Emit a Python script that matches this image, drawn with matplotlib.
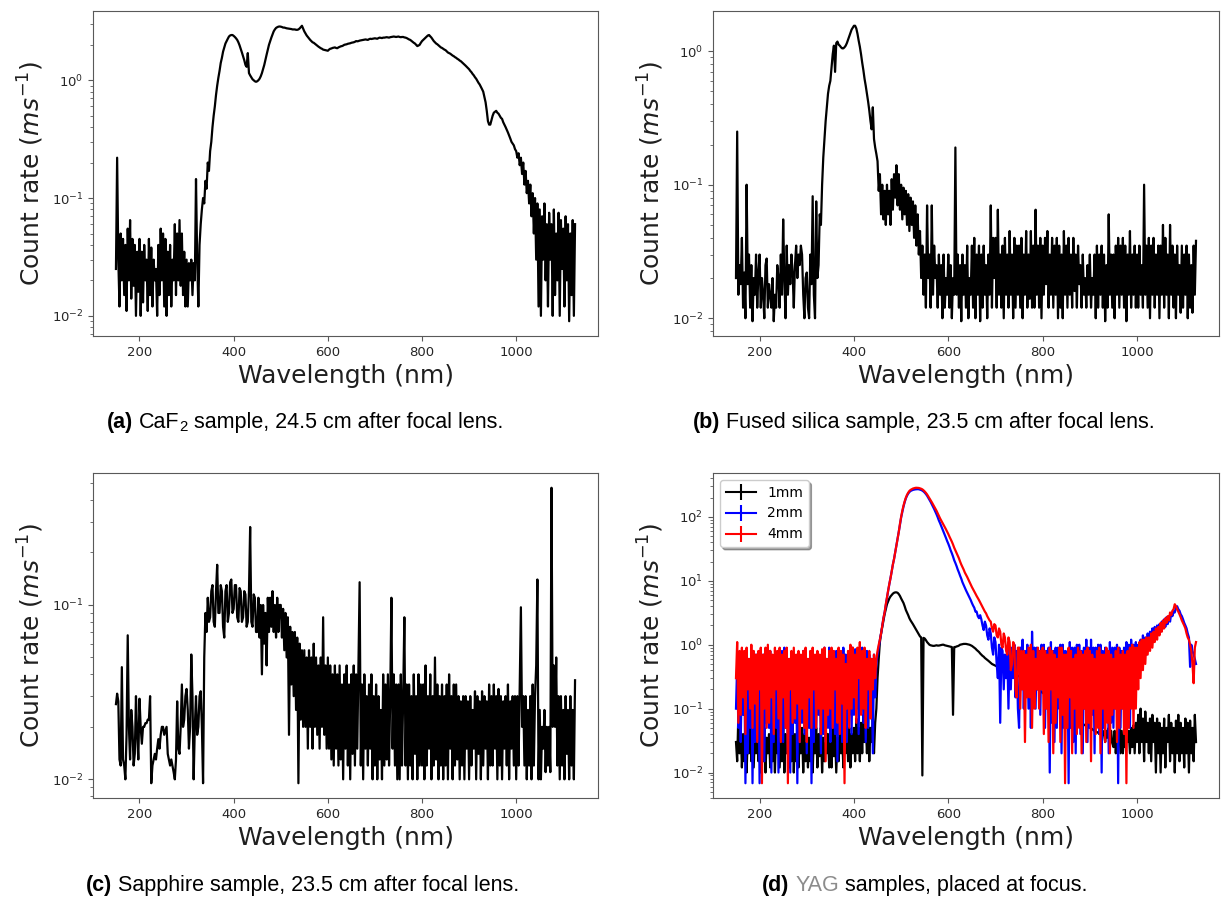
import matplotlib
matplotlib.use('Agg')
import matplotlib.pyplot as plt
from matplotlib.lines import Line2D
from matplotlib.transforms import IdentityTransform
import numpy as np

wavelength = np.arange(150, 1127.5, 2.5)

caf2 = [
    0.025, 0.22, 0.03, 0.012, 0.05, 0.02, 0.045, 0.015, 0.04, 0.011, 0.055, 0.02, 0.065, 0.014, 0.045, 0.018, 0.04, 0.01, 0.035, 0.016,
    0.045, 0.01, 0.035, 0.013, 0.04, 0.02, 0.03, 0.011, 0.045, 0.015, 0.038, 0.012, 0.03, 0.02, 0.025, 0.01, 0.04, 0.015, 0.055, 0.02,
    0.05, 0.012, 0.045, 0.01, 0.035, 0.015, 0.04, 0.012, 0.03, 0.02, 0.06, 0.015, 0.05, 0.02, 0.065, 0.018, 0.05, 0.015, 0.035, 0.012,
    0.03, 0.012, 0.028, 0.02, 0.03, 0.015, 0.028, 0.02, 0.145, 0.03, 0.012, 0.04, 0.06, 0.08, 0.1, 0.09, 0.14, 0.12, 0.2, 0.17,
    0.25, 0.3, 0.4, 0.5, 0.6, 0.75, 0.9, 1.05, 1.2, 1.4, 1.55, 1.75, 1.9, 2.05, 2.15, 2.25, 2.35, 2.4, 2.42, 2.42,
    2.38, 2.33, 2.27, 2.2, 2.1, 1.98, 1.85, 1.72, 1.6, 1.48, 1.35, 1.3, 1.7, 1.15, 1.1, 1.06, 1.02, 1.0, 0.98, 0.97,
    0.98, 1.0, 1.03, 1.08, 1.15, 1.25, 1.35, 1.5, 1.65, 1.82, 2.0, 2.15, 2.3, 2.45, 2.6, 2.7, 2.78, 2.82, 2.85, 2.86,
    2.85, 2.83, 2.8, 2.8, 2.78, 2.76, 2.75, 2.74, 2.73, 2.72, 2.7, 2.7, 2.7, 2.68, 2.68, 2.7, 2.75, 2.82, 2.9, 2.75,
    2.6, 2.5, 2.4, 2.33, 2.27, 2.2, 2.15, 2.1, 2.08, 2.04, 2.0, 1.96, 1.93, 1.9, 1.87, 1.85, 1.82, 1.81, 1.8, 1.79,
    1.78, 1.82, 1.85, 1.86, 1.88, 1.89, 1.9, 1.88, 1.87, 1.9, 1.92, 1.94, 1.95, 1.97, 2.0, 2.01, 2.02, 2.04, 2.05, 2.06,
    2.08, 2.09, 2.1, 2.12, 2.15, 2.14, 2.15, 2.17, 2.18, 2.19, 2.2, 2.21, 2.22, 2.21, 2.2, 2.23, 2.25, 2.24, 2.25, 2.26,
    2.27, 2.26, 2.25, 2.28, 2.3, 2.29, 2.28, 2.3, 2.3, 2.31, 2.32, 2.31, 2.3, 2.32, 2.33, 2.34, 2.35, 2.34, 2.33, 2.34,
    2.35, 2.33, 2.32, 2.33, 2.33, 2.31, 2.3, 2.28, 2.25, 2.22, 2.2, 2.16, 2.12, 2.08, 2.05, 2.0, 1.95, 1.97, 2.0, 2.08,
    2.15, 2.2, 2.25, 2.3, 2.35, 2.4, 2.42, 2.36, 2.3, 2.22, 2.15, 2.1, 2.05, 2.02, 1.98, 1.94, 1.9, 1.88, 1.85, 1.82,
    1.8, 1.76, 1.72, 1.7, 1.68, 1.65, 1.62, 1.6, 1.57, 1.55, 1.52, 1.5, 1.47, 1.45, 1.42, 1.39, 1.36, 1.33, 1.3, 1.27,
    1.24, 1.2, 1.17, 1.13, 1.1, 1.06, 1.03, 0.99, 0.95, 0.92, 0.88, 0.84, 0.8, 0.72, 0.65, 0.55, 0.45, 0.42, 0.42, 0.46,
    0.5, 0.53, 0.54, 0.55, 0.53, 0.52, 0.5, 0.48, 0.47, 0.44, 0.42, 0.4, 0.38, 0.36, 0.34, 0.32, 0.3, 0.29, 0.28, 0.26,
    0.25, 0.22, 0.24, 0.19, 0.22, 0.16, 0.2, 0.13, 0.17, 0.11, 0.14, 0.09, 0.13, 0.07, 0.11, 0.05, 0.1, 0.03, 0.09, 0.012,
    0.08, 0.01, 0.07, 0.03, 0.09, 0.02, 0.06, 0.012, 0.075, 0.03, 0.06, 0.01, 0.08, 0.015, 0.05, 0.02, 0.075, 0.01, 0.065, 0.025,
    0.055, 0.012, 0.07, 0.02, 0.06, 0.009, 0.05, 0.015, 0.065, 0.01, 0.06,
]

silica = [
    0.02, 0.25, 0.015, 0.025, 0.018, 0.04, 0.012, 0.022, 0.01, 0.1, 0.018, 0.03, 0.012, 0.025, 0.0095, 0.02, 0.015, 0.03, 0.012, 0.022,
    0.03, 0.012, 0.02, 0.015, 0.01, 0.025, 0.028, 0.012, 0.018, 0.015, 0.012, 0.02, 0.0095, 0.015, 0.012, 0.025, 0.02, 0.012, 0.03, 0.015,
    0.055, 0.02, 0.01, 0.035, 0.015, 0.025, 0.018, 0.03, 0.022, 0.012, 0.025, 0.035, 0.02, 0.03, 0.025, 0.035, 0.03, 0.015, 0.01, 0.02,
    0.022, 0.012, 0.01, 0.03, 0.018, 0.082, 0.015, 0.01, 0.075, 0.02, 0.025, 0.06, 0.05, 0.1, 0.16, 0.22, 0.3, 0.38, 0.48, 0.55,
    0.6, 0.75, 0.95, 1.1, 0.7, 1.15, 1.18, 1.12, 1.1, 1.07, 1.05, 1.05, 1.07, 1.1, 1.15, 1.22, 1.3, 1.38, 1.45, 1.5,
    1.55, 1.55, 1.48, 1.35, 1.2, 1.08, 0.95, 0.82, 0.72, 0.62, 0.55, 0.48, 0.42, 0.36, 0.3, 0.26, 0.38, 0.22, 0.19, 0.17,
    0.15, 0.09, 0.12, 0.06, 0.1, 0.055, 0.09, 0.05, 0.1, 0.06, 0.09, 0.05, 0.11, 0.065, 0.12, 0.08, 0.14, 0.07, 0.12, 0.065,
    0.1, 0.055, 0.095, 0.06, 0.09, 0.05, 0.085, 0.045, 0.08, 0.05, 0.075, 0.04, 0.07, 0.035, 0.06, 0.03, 0.045, 0.02, 0.035, 0.015,
    0.03, 0.012, 0.07, 0.02, 0.03, 0.012, 0.07, 0.015, 0.035, 0.02, 0.025, 0.012, 0.03, 0.015, 0.025, 0.01, 0.03, 0.012, 0.02, 0.015,
    0.03, 0.012, 0.025, 0.01, 0.02, 0.015, 0.19, 0.015, 0.03, 0.012, 0.025, 0.0095, 0.03, 0.015, 0.025, 0.012, 0.035, 0.01, 0.02, 0.015,
    0.035, 0.012, 0.04, 0.01, 0.03, 0.015, 0.035, 0.0095, 0.03, 0.012, 0.035, 0.015, 0.025, 0.01, 0.03, 0.015, 0.07, 0.012, 0.04, 0.02,
    0.04, 0.012, 0.065, 0.015, 0.03, 0.012, 0.035, 0.01, 0.04, 0.015, 0.03, 0.012, 0.045, 0.015, 0.03, 0.01, 0.04, 0.012, 0.035, 0.015,
    0.035, 0.012, 0.04, 0.01, 0.03, 0.015, 0.045, 0.012, 0.03, 0.014, 0.045, 0.012, 0.035, 0.012, 0.065, 0.015, 0.035, 0.012, 0.04, 0.01,
    0.035, 0.015, 0.04, 0.018, 0.045, 0.012, 0.03, 0.015, 0.04, 0.012, 0.035, 0.015, 0.04, 0.01, 0.035, 0.012, 0.03, 0.01, 0.045, 0.015,
    0.035, 0.012, 0.04, 0.015, 0.03, 0.012, 0.04, 0.016, 0.03, 0.012, 0.035, 0.018, 0.025, 0.012, 0.03, 0.015, 0.02, 0.012, 0.025, 0.015,
    0.03, 0.012, 0.02, 0.015, 0.03, 0.01, 0.035, 0.012, 0.03, 0.015, 0.035, 0.012, 0.03, 0.0095, 0.025, 0.012, 0.06, 0.015, 0.03, 0.012,
    0.03, 0.01, 0.035, 0.015, 0.04, 0.012, 0.035, 0.015, 0.04, 0.012, 0.035, 0.0095, 0.03, 0.015, 0.045, 0.012, 0.03, 0.015, 0.035, 0.012,
    0.03, 0.012, 0.035, 0.015, 0.025, 0.012, 0.1, 0.015, 0.035, 0.012, 0.04, 0.01, 0.035, 0.015, 0.04, 0.012, 0.03, 0.015, 0.035, 0.01,
    0.035, 0.015, 0.05, 0.012, 0.04, 0.015, 0.03, 0.01, 0.05, 0.015, 0.035, 0.012, 0.03, 0.01, 0.035, 0.015, 0.025, 0.011, 0.035, 0.012,
    0.03, 0.015, 0.035, 0.01, 0.03, 0.012, 0.025, 0.011, 0.035, 0.015, 0.038,
]

sapphire = [
    0.027, 0.031, 0.028, 0.013, 0.012, 0.044, 0.013, 0.012, 0.01, 0.018, 0.067, 0.02, 0.013, 0.025, 0.02, 0.012, 0.014, 0.03, 0.018, 0.013,
    0.029, 0.02, 0.016, 0.02, 0.02, 0.021, 0.021, 0.022, 0.022, 0.03, 0.0095, 0.012, 0.013, 0.014, 0.013, 0.015, 0.017, 0.015, 0.018, 0.02,
    0.02, 0.018, 0.019, 0.02, 0.014, 0.013, 0.012, 0.013, 0.012, 0.011, 0.01, 0.013, 0.028, 0.015, 0.014, 0.02, 0.035, 0.02, 0.022, 0.03,
    0.033, 0.025, 0.015, 0.02, 0.052, 0.03, 0.01, 0.02, 0.03, 0.018, 0.02, 0.03, 0.032, 0.02, 0.0095, 0.05, 0.09, 0.07, 0.11, 0.08,
    0.085, 0.12, 0.13, 0.08, 0.075, 0.12, 0.17, 0.09, 0.09, 0.13, 0.12, 0.075, 0.065, 0.12, 0.13, 0.08, 0.09, 0.135, 0.14, 0.09,
    0.095, 0.13, 0.13, 0.085, 0.08, 0.125, 0.12, 0.08, 0.085, 0.12, 0.115, 0.075, 0.08, 0.12, 0.28, 0.08, 0.075, 0.115, 0.11, 0.07,
    0.07, 0.11, 0.065, 0.1, 0.04, 0.1, 0.06, 0.09, 0.045, 0.11, 0.07, 0.11, 0.075, 0.12, 0.07, 0.1, 0.065, 0.11, 0.07, 0.1,
    0.1, 0.065, 0.095, 0.055, 0.09, 0.05, 0.085, 0.018, 0.075, 0.035, 0.07, 0.03, 0.07, 0.025, 0.065, 0.0095, 0.06, 0.022, 0.055, 0.02,
    0.055, 0.02, 0.05, 0.015, 0.055, 0.02, 0.05, 0.015, 0.06, 0.02, 0.05, 0.018, 0.045, 0.015, 0.05, 0.02, 0.085, 0.018, 0.045, 0.015,
    0.05, 0.015, 0.045, 0.013, 0.04, 0.012, 0.045, 0.015, 0.04, 0.012, 0.045, 0.013, 0.035, 0.01, 0.04, 0.015, 0.045, 0.012, 0.035, 0.01,
    0.04, 0.014, 0.045, 0.012, 0.04, 0.015, 0.045, 0.135, 0.012, 0.035, 0.01, 0.04, 0.015, 0.03, 0.012, 0.035, 0.015, 0.04, 0.01, 0.03,
    0.012, 0.035, 0.01, 0.03, 0.013, 0.025, 0.01, 0.04, 0.012, 0.035, 0.013, 0.04, 0.012, 0.03, 0.11, 0.015, 0.04, 0.012, 0.035, 0.01,
    0.035, 0.01, 0.04, 0.012, 0.03, 0.085, 0.012, 0.035, 0.01, 0.035, 0.012, 0.03, 0.01, 0.04, 0.014, 0.03, 0.01, 0.04, 0.012, 0.035,
    0.012, 0.035, 0.01, 0.045, 0.012, 0.03, 0.015, 0.04, 0.01, 0.03, 0.012, 0.05, 0.013, 0.035, 0.01, 0.03, 0.012, 0.035, 0.01, 0.03,
    0.012, 0.035, 0.01, 0.04, 0.015, 0.03, 0.01, 0.035, 0.012, 0.035, 0.013, 0.03, 0.01, 0.028, 0.012, 0.03, 0.01, 0.03, 0.015, 0.028,
    0.01, 0.03, 0.012, 0.025, 0.015, 0.032, 0.01, 0.03, 0.014, 0.028, 0.01, 0.032, 0.012, 0.03, 0.015, 0.028, 0.01, 0.035, 0.012, 0.03,
    0.012, 0.035, 0.015, 0.03, 0.01, 0.033, 0.012, 0.03, 0.01, 0.028, 0.015, 0.03, 0.012, 0.035, 0.01, 0.028, 0.015, 0.03, 0.012, 0.03,
    0.01, 0.03, 0.012, 0.035, 0.097, 0.02, 0.03, 0.012, 0.03, 0.01, 0.025, 0.012, 0.03, 0.01, 0.035, 0.012, 0.03, 0.045, 0.14, 0.01,
    0.025, 0.01, 0.02, 0.015, 0.025, 0.011, 0.02, 0.012, 0.02, 0.011, 0.47, 0.02, 0.045, 0.02, 0.05, 0.012, 0.03, 0.01, 0.03, 0.012,
    0.025, 0.01, 0.03, 0.014, 0.025, 0.01, 0.03, 0.012, 0.025, 0.01, 0.037,
]

yag_1mm = [
    0.03, 0.015, 0.08, 0.02, 0.05, 0.012, 0.04, 0.015, 0.05, 0.01, 0.04, 0.02, 0.06, 0.015, 0.045, 0.012, 0.04, 0.02, 0.05, 0.015,
    0.03, 0.01, 0.045, 0.015, 0.05, 0.01, 0.035, 0.02, 0.04, 0.012, 0.06, 0.015, 0.04, 0.01, 0.05, 0.02, 0.035, 0.012, 0.04, 0.015,
    0.05, 0.01, 0.04, 0.02, 0.035, 0.012, 0.045, 0.015, 0.06, 0.01, 0.04, 0.015, 0.05, 0.012, 0.035, 0.02, 0.05, 0.01, 0.04, 0.015,
    0.05, 0.012, 0.035, 0.015, 0.055, 0.01, 0.04, 0.02, 0.05, 0.012, 0.04, 0.018, 0.05, 0.01, 0.035, 0.015, 0.06, 0.02, 0.04, 0.012,
    0.04, 0.012, 0.05, 0.018, 0.04, 0.01, 0.035, 0.015, 0.06, 0.02, 0.04, 0.012, 0.05, 0.02, 0.07, 0.015, 0.05, 0.012, 0.04, 0.02,
    0.05, 0.015, 0.07, 0.02, 0.05, 0.015, 0.06, 0.02, 0.08, 0.03, 0.06, 0.02, 0.07, 0.015, 0.05, 0.03, 0.08, 0.02, 0.06, 0.1,
    0.3, 0.6, 1.1, 1.5, 1.9, 2.4, 3.0, 3.6, 4.3, 4.8, 5.3, 5.7, 6.0, 6.3, 6.5, 6.6, 6.6, 6.5, 6.2, 5.8,
    5.3, 4.9, 4.5, 4.0, 3.5, 3.2, 2.9, 2.6, 2.4, 2.25, 2.1, 1.95, 1.8, 1.68, 1.55, 1.45, 1.35, 1.3, 0.009, 1.28,
    1.25, 1.18, 1.1, 1.05, 1.0, 0.98, 0.97, 0.96, 0.96, 0.97, 0.98, 0.97, 0.97, 0.98, 0.99, 1.0, 1.0, 0.98, 0.97, 0.96,
    0.95, 0.94, 0.93, 0.92, 0.08, 0.92, 0.92, 0.94, 0.95, 0.97, 1.0, 1.01, 1.02, 1.03, 1.03, 1.03, 1.02, 1.01, 1.0, 0.98,
    0.96, 0.93, 0.9, 0.87, 0.83, 0.8, 0.77, 0.73, 0.7, 0.67, 0.65, 0.62, 0.6, 0.58, 0.56, 0.54, 0.52, 0.5, 0.49, 0.48,
    0.47, 0.46, 0.45, 0.44, 0.43, 0.42, 0.42, 0.41, 0.4, 0.39, 0.39, 0.38, 0.37, 0.36, 0.36, 0.35, 0.35, 0.34, 0.33, 0.33,
    0.32, 0.31, 0.3, 0.3, 0.29, 0.28, 0.27, 0.26, 0.26, 0.25, 0.24, 0.23, 0.23, 0.22, 0.22, 0.21, 0.2, 0.2, 0.19, 0.18,
    0.18, 0.17, 0.17, 0.16, 0.16, 0.15, 0.15, 0.14, 0.14, 0.13, 0.13, 0.12, 0.12, 0.11, 0.11, 0.1, 0.1, 0.098, 0.095, 0.092,
    0.09, 0.088, 0.085, 0.082, 0.08, 0.078, 0.075, 0.072, 0.07, 0.068, 0.065, 0.062, 0.06, 0.059, 0.058, 0.056, 0.055, 0.053, 0.052, 0.051,
    0.05, 0.049, 0.048, 0.046, 0.045, 0.044, 0.043, 0.042, 0.04, 0.05, 0.035, 0.045, 0.04, 0.03, 0.045, 0.035, 0.05, 0.025, 0.045, 0.03,
    0.025, 0.045, 0.02, 0.04, 0.03, 0.05, 0.02, 0.045, 0.02, 0.04, 0.025, 0.05, 0.03, 0.045, 0.02, 0.05, 0.025, 0.055, 0.02, 0.06,
    0.03, 0.08, 0.02, 0.1, 0.03, 0.07, 0.015, 0.09, 0.03, 0.06, 0.02, 0.07, 0.015, 0.08, 0.03, 0.06, 0.01, 0.07, 0.02, 0.06,
    0.01, 0.05, 0.02, 0.07, 0.012, 0.05, 0.03, 0.08, 0.015, 0.06, 0.02, 0.05, 0.01, 0.065, 0.02, 0.08, 0.015, 0.06, 0.02, 0.05,
    0.012, 0.07, 0.02, 0.06, 0.01, 0.065, 0.02, 0.05, 0.015, 0.08, 0.03,
]

yag_2mm = [
    0.1, 0.5, 0.05, 0.7, 0.03, 0.4, 0.08, 0.6, 0.0068, 0.5, 0.02, 0.6, 0.05, 0.5, 0.0068, 0.4, 0.03, 0.7, 0.04, 0.5,
    0.0068, 0.4, 0.04, 0.7, 0.015, 0.5, 0.06, 0.5, 0.05, 0.8, 0.01, 0.6, 0.03, 0.7, 0.05, 0.5, 0.01, 0.6, 0.04, 0.8,
    0.03, 0.9, 0.05, 0.5, 0.02, 0.6, 0.01, 0.7, 0.04, 0.6, 0.06, 0.5, 0.0068, 0.6, 0.03, 0.5, 0.06, 0.8, 0.04, 0.7,
    0.02, 0.6, 0.05, 0.7, 0.0068, 0.5, 0.03, 0.6, 0.05, 0.7, 0.08, 0.6, 0.02, 0.8, 0.04, 0.9, 0.03, 0.6, 0.05, 0.9,
    0.03, 0.6, 0.05, 0.7, 0.04, 0.8, 0.015, 0.6, 0.05, 0.7, 0.03, 0.9, 0.05, 0.7, 0.03, 0.6, 0.08, 0.85, 0.04, 0.9,
    0.08, 0.85, 0.1, 0.6, 0.04, 0.8, 0.1, 0.9, 0.06, 0.7, 0.03, 0.8, 0.05, 0.7, 0.1, 0.6, 0.02, 0.7, 0.15, 0.5,
    0.7, 0.9, 1.2, 1.5, 2.0, 2.6, 3.2, 4.2, 5.4, 7.0, 8.8, 11, 14, 18, 22, 28, 35, 45, 57, 75,
    98, 120, 145, 170, 195, 215, 232, 245, 255, 260, 265, 268, 270, 271, 272, 271, 268, 264, 258, 250,
    240, 228, 215, 200, 185, 172, 158, 145, 133, 121, 110, 99, 88, 80, 72, 65, 58, 52, 47, 42,
    38, 34, 30, 27, 24, 21, 19, 17, 15, 13.5, 12, 10.8, 9.5, 8.6, 7.8, 7.1, 6.5, 5.9, 5.4, 5.0,
    4.5, 4.1, 3.8, 3.3, 3.3, 2.8, 2.6, 2.9, 2.5, 2.0, 1.7, 2.3, 2.0, 1.4, 1.2, 1.8, 1.5, 0.9, 0.7, 1.3,
    1.1, 0.5, 0.3, 1.0, 0.06, 0.9, 0.8, 0.2, 0.7, 0.3, 0.7, 0.1, 0.9, 0.2, 0.9, 0.3, 1.0, 0.15, 0.8, 0.1,
    0.05, 0.9, 0.2, 1.2, 0.1, 0.8, 0.3, 1.0, 0.1, 0.8, 0.05, 1.6, 0.3, 0.9, 0.1, 0.9, 0.2, 0.8, 0.08, 1.0,
    0.2, 1.0, 0.05, 0.8, 0.1, 0.9, 0.01, 1.1, 0.06, 0.8, 0.03, 0.9, 0.05, 0.9, 0.1, 1.0, 0.02, 1.0, 0.05, 0.8,
    0.1, 0.8, 0.0068, 1.1, 0.05, 0.9, 0.03, 0.9, 0.02, 1.0, 0.1, 1.0, 0.04, 0.8, 0.02, 0.9, 0.1, 1.2, 0.03, 0.9,
    0.05, 1.2, 0.08, 0.9, 0.02, 0.9, 0.1, 1.0, 0.04, 1.0, 0.01, 0.8, 0.05, 0.9, 0.1, 0.8, 0.02, 1.1, 0.06, 0.9,
    0.05, 0.9, 0.1, 1.0, 0.0068, 0.9, 0.05, 0.8, 0.1, 0.9, 0.04, 1.1, 0.1, 1.0, 0.05, 1.2, 0.2, 1.0, 0.3, 1.1,
    0.5, 1.0, 0.4, 1.2, 0.5, 1.4, 0.7, 1.3, 0.7, 1.5, 0.9, 1.6, 1.0, 1.8, 1.2, 1.9, 1.3, 2.0, 1.5, 2.1,
    1.6, 2.3, 1.8, 2.5, 1.9, 2.7, 2.1, 2.8, 2.3, 3.1, 2.8, 3.3, 3.2, 3.8, 4.0, 3.6, 3.4, 3.0, 2.8, 2.5,
    2.2, 2.0, 1.8, 1.5, 1.3, 0.45, 1.0, 0.8, 0.7, 0.6, 0.5,
]

yag_4mm = [
    0.3, 1.1, 0.06, 0.8, 0.08, 0.9, 0.15, 0.8, 0.04, 0.9, 0.2, 0.6, 0.1, 1.0, 0.05, 0.8, 0.12, 0.7, 0.03, 0.8,
    0.2, 0.9, 0.0068, 0.7, 0.1, 0.9, 0.05, 1.0, 0.06, 0.8, 0.15, 0.7, 0.04, 0.9, 0.2, 0.8, 0.07, 0.9, 0.03, 0.7,
    0.15, 0.8, 0.05, 0.9, 0.0068, 0.6, 0.2, 0.8, 0.06, 0.9, 0.07, 0.7, 0.12, 0.8, 0.03, 0.7, 0.1, 0.8, 0.05, 0.9,
    0.03, 0.6, 0.15, 0.8, 0.05, 0.9, 0.2, 0.7, 0.05, 0.8, 0.1, 0.7, 0.04, 0.85, 0.1, 0.9, 0.015, 0.6, 0.08, 0.8,
    0.1, 0.9, 0.05, 0.8, 0.2, 0.6, 0.06, 0.9, 0.04, 0.8, 0.12, 0.7, 0.0068, 0.5, 0.1, 0.8, 0.05, 1.0, 0.1, 0.9,
    0.15, 0.7, 0.06, 0.9, 0.3, 1.1, 0.08, 0.8, 0.1, 0.9, 0.05, 0.6, 0.2, 0.8, 0.07, 0.6, 0.2, 0.7, 0.3, 0.6,
    0.8, 1.0, 1.2, 1.5, 2.0, 2.6, 3.2, 4.3, 5.5, 7.0, 9.0, 11, 14, 18, 22, 28, 35, 46, 58, 78,
    100, 125, 150, 175, 200, 222, 240, 255, 265, 272, 278, 282, 285, 286, 285, 284, 280, 276, 270, 261,
    250, 238, 225, 210, 195, 182, 170, 157, 145, 135, 125, 114, 103, 95, 88, 81, 75, 69, 64, 59,
    54, 49, 45, 41, 37, 33, 30, 27.5, 25, 22.5, 20, 18, 16.5, 15, 13.5, 12.5, 11.5, 10.5, 9.5, 8.7,
    8.0, 7.4, 6.8, 6.3, 5.8, 5.4, 5.0, 4.6, 4.2, 3.9, 3.6, 3.3, 3.1, 2.8, 2.6, 2.4, 2.3, 1.8, 1.6, 2.1,
    2.0, 1.4, 1.3, 1.8, 1.6, 1.0, 0.9, 1.5, 1.3, 0.8, 0.7, 1.3, 1.1, 0.4, 0.5, 1.1, 1.0, 0.2, 0.15, 0.9,
    0.9, 0.1, 0.8, 0.2, 0.8, 0.03, 0.7, 0.15, 0.9, 0.15, 1.0, 0.05, 0.8, 0.1, 0.6, 0.2, 0.9, 0.1, 0.8, 0.2,
    0.9, 0.04, 0.8, 0.1, 0.7, 0.03, 0.9, 0.2, 0.8, 0.02, 0.7, 0.06, 0.6, 0.15, 0.9, 0.03, 0.9, 0.08, 0.7, 0.0068,
    0.7, 0.05, 0.9, 0.15, 0.8, 0.02, 0.6, 0.1, 0.7, 0.04, 0.9, 0.05, 0.8, 0.02, 0.7, 0.1, 0.8, 0.03, 0.9, 0.06,
    0.8, 0.015, 0.7, 0.1, 0.6, 0.04, 0.8, 0.05, 0.9, 0.02, 0.7, 0.1, 0.7, 0.03, 0.9, 0.06, 0.8, 0.02, 0.7, 0.08,
    0.6, 0.1, 0.8, 0.03, 0.9, 0.05, 0.7, 0.1, 0.8, 0.04, 0.7, 0.0068, 0.8, 0.05, 0.9, 0.1, 1.0, 0.05, 0.9, 0.1,
    0.9, 0.2, 1.1, 0.3, 1.2, 0.4, 1.2, 0.5, 1.3, 0.7, 1.3, 0.8, 1.5, 0.9, 1.6, 1.1, 1.8, 1.2, 1.9, 1.4,
    2.2, 1.6, 2.4, 1.8, 2.6, 2.2, 2.8, 2.4, 3.2, 2.9, 3.4, 3.6, 4.3, 4.0, 3.6, 3.3, 3.0, 2.7, 2.4, 2.2,
    2.0, 1.8, 1.5, 1.3, 1.2, 1.0, 0.8, 0.5, 0.25, 0.9, 1.1,
]

yag_labels = ['1mm', '2mm', '4mm']
yag_colors = ['k', 'b', 'r']

W, H = 1223, 900
fig = plt.figure(figsize=(W / 100, H / 100), dpi=100)


def panel(x0, x1, y0, y1):
    # axes box given in pixels from the top-left corner
    ax = fig.add_axes([x0 / W, 1 - y1 / H, (x1 - x0) / W, (y1 - y0) / H])
    ax.set_yscale('log')
    ax.set_xticks([200, 400, 600, 800, 1000])
    ax.tick_params(which='both', colors='0.35', labelcolor='0.15', labelsize=9.5)
    for sp in ax.spines.values():
        sp.set_color('0.35')
    ax.set_xlabel('Wavelength (nm)', fontsize=18, color='0.12')
    ax.set_ylabel(r'Count rate ($ms^{-1}$)', fontsize=18, color='0.12')
    return ax


def caption(cx, base_y, parts):
    # parts: (text, size, weight, colour, y shift px, spaces before)
    r = fig.canvas.get_renderer()
    placed = []
    x = 0.0
    for s, size, weight, color, dy, gap in parts:
        x += gap * 0.278 * size * fig.dpi / 72
        t = fig.text(0, 0, s, transform=IdentityTransform(), fontsize=size,
                     fontweight=weight, color=color, family='Liberation Sans',
                     ha='left', va='baseline')
        placed.append((t, x, dy))
        x += t.get_window_extent(renderer=r).width
    start = cx - x / 2
    for t, off, dy in placed:
        t.set_position((start + off, H - base_y + dy))


fs = 15.5
lw = 1.6
ax_a = panel(93, 598, 11, 336)
ax_a.plot(wavelength, caf2, color='k', lw=lw)

ax_b = panel(713, 1219, 11, 336)
ax_b.plot(wavelength, silica, color='k', lw=lw)

ax_c = panel(93, 598, 473, 798)
ax_c.plot(wavelength, sapphire, color='k', lw=lw)

ax_d = panel(713, 1219, 473, 798)
for vals, c in zip([yag_1mm, yag_2mm, yag_4mm], yag_colors):
    ax_d.plot(wavelength, vals, color=c, lw=lw)
handles = [Line2D([], [], color=c, lw=1.5, marker='|', markersize=12, markeredgewidth=1.5)
           for c in yag_colors]
ax_d.legend(handles, yag_labels, loc='upper left', fontsize=10, shadow=True,
            fancybox=True, framealpha=1, handlelength=2.2, borderaxespad=0.5)

caption(305, 428, [('(a)', fs, 'bold', 'k', 0, 0), ('CaF', fs, 'normal', 'k', 0, 1),
                   ('2', fs * 0.7, 'normal', 'k', -3, 0),
                   ('sample, 24.5 cm after focal lens.', fs, 'normal', 'k', 0, 1)])
caption(924, 428, [('(b)', fs, 'bold', 'k', 0, 0),
                   ('Fused silica sample, 23.5 cm after focal lens.', fs, 'normal', 'k', 0, 1)])
caption(303, 891, [('(c)', fs, 'bold', 'k', 0, 0),
                   ('Sapphire sample, 23.5 cm after focal lens.', fs, 'normal', 'k', 0, 1)])
caption(925, 891, [('(d)', fs, 'bold', 'k', 0, 0), ('YAG', fs, 'normal', '#8c8c8c', 0, 1),
                   ('samples, placed at focus.', fs, 'normal', 'k', 0, 1)])

fig.savefig('out.png', dpi=100)
